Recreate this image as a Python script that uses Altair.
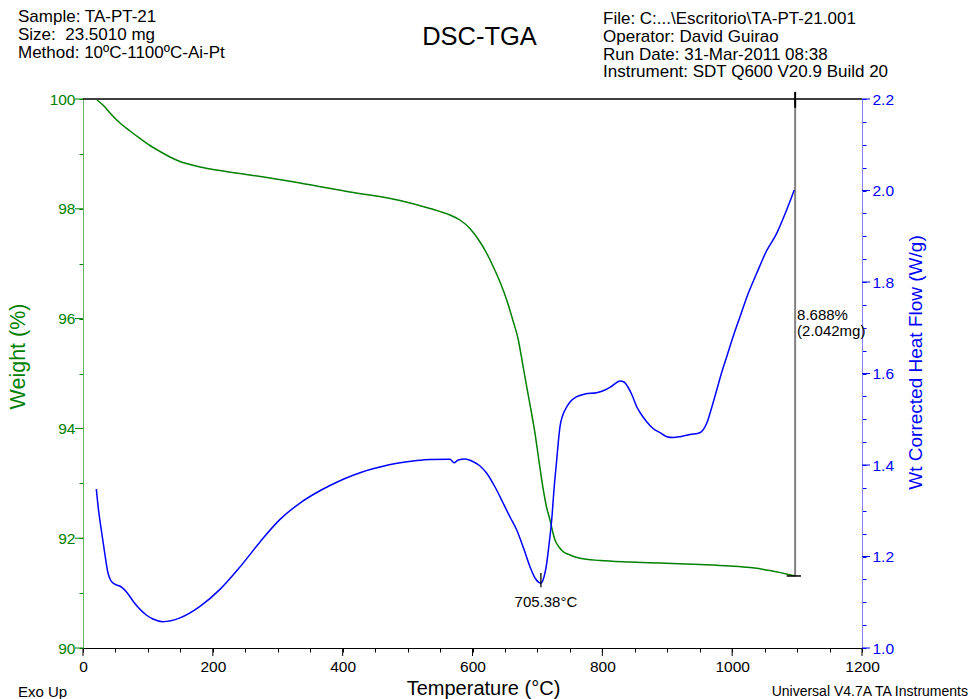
import altair as alt
import pandas as pd

# ---------------- data ----------------
temp_w = [21.6, 32.3, 41.6, 57.0, 72.4, 87.8, 103.2, 118.6, 134.0, 149.4, 164.8, 180.2,
          211.0, 257.3, 334.3, 411.3, 488.3, 534.5, 565.3, 580.7, 596.1, 611.6, 621.6,
          632.0, 642.4, 652.7, 661.6, 670.6, 677.0, 683.5, 690.1, 696.3, 702.4, 709.1,
          714.0, 719.4, 723.2, 727.1, 733.2, 739.9, 750.2, 765.6, 796.4, 842.6, 888.8,
          950.4, 996.7, 1027.5, 1058.3, 1097.0]
weight = [99.982, 99.872, 99.745, 99.563, 99.417, 99.281, 99.153, 99.044, 98.944, 98.862,
          98.807, 98.761, 98.698, 98.616, 98.470, 98.306, 98.151, 98.005, 97.887, 97.796,
          97.641, 97.395, 97.195, 96.945, 96.667, 96.339, 95.993, 95.610, 95.191, 94.760,
          94.335, 93.910, 93.406, 92.878, 92.568, 92.332, 92.131, 91.967, 91.840, 91.754,
          91.694, 91.634, 91.594, 91.567, 91.548, 91.521, 91.494, 91.466, 91.412, 91.312]

temp_hf = [20.5, 23.9, 28.2, 33.4, 38.5, 42.4, 46.2, 51.6, 56.5, 66.7, 79.6, 97.5, 107.8,
           123.2, 149.4, 180.2, 211.0, 241.9, 272.7, 303.5, 334.3, 357.4, 380.5, 403.6,
           431.3, 457.5, 483.7, 511.4, 534.5, 565.3, 571.5, 578.1, 588.4, 601.2, 611.6,
           621.9, 634.7, 647.4, 657.8, 668.1, 678.6, 688.6, 696.3, 702.9, 705.38, 708.6,
           714.3, 717.8, 722.0, 725.5, 729.7, 732.5, 734.8, 738.6, 742.5, 750.2, 760.5,
           773.3, 791.3, 804.1, 814.9, 827.2, 833.4, 839.5, 845.7, 853.0, 859.6, 868.3,
           878.1, 888.9, 899.2, 908.9, 919.7, 935.1, 947.9, 955.1, 960.8, 967.4, 976.2,
           983.6, 991.6, 1001.3, 1012.1, 1024.4, 1037.8, 1052.1, 1068.6, 1081.4, 1095.7]
heat_flow = [1.3475, 1.3016, 1.2579, 1.2077, 1.1639, 1.1486, 1.1421, 1.1377, 1.1355,
             1.1231, 1.0977, 1.0721, 1.0634, 1.0575, 1.0658, 1.0909, 1.1281, 1.1773,
             1.2319, 1.2811, 1.3169, 1.3377, 1.3552, 1.3705, 1.3854, 1.3956, 1.4037,
             1.4092, 1.4120, 1.4125, 1.4050, 1.4109, 1.4131, 1.4072, 1.3978, 1.3819,
             1.3519, 1.3163, 1.2863, 1.2579, 1.2186, 1.1777, 1.1530, 1.1427, 1.1415,
             1.1486, 1.1851, 1.2251, 1.2798, 1.3454, 1.4109, 1.4546, 1.4837, 1.5071,
             1.5202, 1.5377, 1.5493, 1.5552, 1.5580, 1.5639, 1.5727, 1.5836, 1.5814,
             1.5705, 1.5530, 1.5274, 1.5115, 1.4947, 1.4798, 1.4706, 1.4619, 1.4601,
             1.4619, 1.4667, 1.4693, 1.4765, 1.4911, 1.5202, 1.5639, 1.6011, 1.6367,
             1.6798, 1.7242, 1.7738, 1.8190, 1.8656, 1.9064, 1.9486, 2.0011]

x_ticks = list(range(0, 1201, 50))
x_major = list(range(0, 1201, 200))
w_ticks = [90 + 0.5 * i for i in range(21)]
w_major = list(range(90, 101, 2))
hf_ticks = [round(1.0 + 0.05 * i, 2) for i in range(25)]
hf_major = [round(1.0 + 0.2 * i, 1) for i in range(7)]

step_temp = 1097
step_start = 100.0
step_end = 91.312
step_lines = ["8.688%", "(2.042mg)"]
peak_temp = 705.38
peak_label = "705.38°C"

header_left = ["Sample: TA-PT-21", "Size: \u00a023.5010 mg", "Method: 10ºC-1100ºC-Ai-Pt"]
header_right = ["File: C:...\\Escritorio\\TA-PT-21.001", "Operator: David Guirao",
                "Run Date: 31-Mar-2011 08:38", "Instrument: SDT Q600 V20.9 Build 20"]

FONT = "Liberation Sans"
GREEN = "#008000"
BLUE = "#0000ff"
W, H = 779, 549
MINOR = 4
MAJOR = 8

w_df = pd.DataFrame({"T": temp_w, "W": weight})
hf_df = pd.DataFrame({"T": temp_hf, "HF": heat_flow})

x_scale = alt.Scale(domain=[0, 1200], nice=False, zero=False)
w_scale = alt.Scale(domain=[90, 100], nice=False, zero=False)
hf_scale = alt.Scale(domain=[1.0, 2.2], nice=False, zero=False)

x_axis = alt.Axis(
    values=x_ticks, format="d",
    labelExpr="datum.value % 200 === 0 ? datum.label : ''",
    tickSize=MINOR,
    title="Temperature (°C)", titleFont=FONT, titleFontSize=20, titleFontWeight="normal",
    titleX=400, titleY=46, titleBaseline="alphabetic", titleColor="#000000",
    labelFont=FONT, labelFontSize=15.5, labelColor="#000000", labelPadding=7,
    domainColor="#000000", tickColor="#000000", labelFlush=False,
)
w_axis = alt.Axis(
    orient="left", values=w_ticks, format="d",
    labelExpr="abs(datum.value / 2 - round(datum.value / 2)) < 0.001 ? datum.label : ''",
    tickSize=MINOR,
    title="Weight (%)", titleFont=FONT, titleFontSize=21.5, titleFontWeight="normal",
    titleColor=GREEN, titleAngle=270, titleX=-65, titleY=257, titleBaseline="middle",
    titleAlign="center",
    labelFont=FONT, labelFontSize=15.5, labelColor=GREEN, labelPadding=4,
    domainColor="#66b366", tickColor=GREEN, labelFlush=False,
)
hf_axis = alt.Axis(
    orient="right", values=hf_ticks, format=".1f",
    labelExpr="abs(datum.value * 5 - round(datum.value * 5)) < 0.001 ? datum.label : ''",
    tickSize=MINOR,
    title="Wt Corrected Heat Flow (W/g)", titleFont=FONT, titleFontSize=19,
    titleFontWeight="normal", titleColor=BLUE, titleAngle=270, titleX=53, titleY=263,
    titleBaseline="middle", titleAlign="center",
    labelFont=FONT, labelFontSize=15.5, labelColor=BLUE, labelPadding=6,
    domainColor="#7f7fff", tickColor=BLUE, labelFlush=False,
)


def XT(field):
    return alt.X(field, type="quantitative", scale=x_scale, axis=x_axis)


def YW(field):
    return alt.Y(field, type="quantitative", scale=w_scale, axis=w_axis)


def YH(field):
    return alt.Y(field, type="quantitative", scale=hf_scale, axis=hf_axis)


# ---------------- weight layer ----------------
green = alt.Chart(w_df).mark_line(color=GREEN, strokeWidth=1.5, interpolate="monotone").encode(
    x=XT("T"), y=YW("W"),
)

x_major_ticks = alt.Chart(pd.DataFrame({"T": x_major})).mark_rule(
    color="#000000", strokeWidth=1).encode(
    x=XT("T"), y=alt.value(H), y2=alt.value(H + MAJOR),
)
w_major_ticks = alt.Chart(pd.DataFrame({"W": w_major})).mark_rule(
    color=GREEN, strokeWidth=1).encode(
    y=YW("W"), x=alt.value(0), x2=alt.value(-MAJOR),
)

top_line = alt.Chart(pd.DataFrame({"T0": [0], "T1": [1200], "W": [step_start]})).mark_rule(
    color="#000000", strokeWidth=1.3).encode(
    x=XT("T0"), x2="T1:Q", y=YW("W"),
)
step_rule = alt.Chart(pd.DataFrame({"T": [step_temp], "W0": [step_start], "W1": [step_end]})).mark_rule(
    color="#808080", strokeWidth=2).encode(
    x=XT("T"), y=YW("W0"), y2="W1:Q",
)
top_tick = alt.Chart(pd.DataFrame({"T": [step_temp], "W0": [step_start + 0.13], "W1": [step_start - 0.16]})).mark_rule(
    color="#000000", strokeWidth=2).encode(
    x=XT("T"), y=YW("W0"), y2="W1:Q",
)
bot_tick = alt.Chart(pd.DataFrame({"T0": [step_temp - 13], "T1": [step_temp + 9], "W": [step_end]})).mark_rule(
    color="#000000", strokeWidth=1.5).encode(
    x=XT("T0"), x2="T1:Q", y=YW("W"),
)
step_text = alt.Chart(pd.DataFrame({"T": [step_temp + 3, step_temp + 3], "W": [96.07, 95.77],
                                    "txt": step_lines})).mark_text(
    align="left", baseline="middle", font=FONT, fontSize=15, color="#000000").encode(
    x=XT("T"), y=YW("W"), text="txt:N",
)

hl = pd.DataFrame({"txt": header_left, "py": [-82, -64, -46.5]})
header_l = alt.Chart(hl).mark_text(align="left", baseline="middle", font=FONT, fontSize=17,
                                   color="#000000").encode(
    x=alt.value(-65), y=alt.Y("py:Q", scale=None), text="txt:N")
hr = pd.DataFrame({"txt": header_right, "py": [-80.5, -62.5, -44.5, -27]})
header_r = alt.Chart(hr).mark_text(align="left", baseline="middle", font=FONT, fontSize=17,
                                   color="#000000").encode(
    x=alt.value(520), y=alt.Y("py:Q", scale=None), text="txt:N")
title_t = alt.Chart(pd.DataFrame({"txt": ["DSC-TGA"]})).mark_text(
    align="center", baseline="middle", font=FONT, fontSize=25.5, color="#000000").encode(
    x=alt.value(396.5), y=alt.value(-62), text="txt:N")
exo_t = alt.Chart(pd.DataFrame({"txt": ["Exo Up"]})).mark_text(
    align="left", baseline="middle", font=FONT, fontSize=15, color="#000000").encode(
    x=alt.value(-65), y=alt.value(593), text="txt:N")
univ_t = alt.Chart(pd.DataFrame({"txt": ["Universal V4.7A TA Instruments"]})).mark_text(
    align="right", baseline="middle", font=FONT, fontSize=14, color="#000000").encode(
    x=alt.value(885), y=alt.value(593), text="txt:N")

weight_layer = alt.layer(green, top_line, x_major_ticks, w_major_ticks, step_rule, top_tick,
                         bot_tick, step_text, header_l, header_r, title_t, exo_t, univ_t)

# ---------------- heat flow layer ----------------
blue = alt.Chart(hf_df).mark_line(color=BLUE, strokeWidth=1.5, interpolate="monotone").encode(
    x=XT("T"), y=YH("HF"),
)
hf_major_ticks = alt.Chart(pd.DataFrame({"HF": hf_major})).mark_rule(
    color=BLUE, strokeWidth=1).encode(
    y=YH("HF"), x=alt.value(W), x2=alt.value(W + MAJOR),
)
peak_tick = alt.Chart(pd.DataFrame({"T": [peak_temp], "H0": [1.133], "H1": [1.164]})).mark_rule(
    color="#000000", strokeWidth=1.3).encode(
    x=XT("T"), y=YH("H0"), y2="H1:Q",
)
peak_text = alt.Chart(pd.DataFrame({"T": [peak_temp], "H": [1.1005], "txt": [peak_label]})).mark_text(
    align="center", baseline="middle", font=FONT, fontSize=15, color="#000000", dx=5).encode(
    x=XT("T"), y=YH("H"), text="txt:N",
)
hf_layer = alt.layer(blue, hf_major_ticks, peak_tick, peak_text)

chart = alt.layer(weight_layer, hf_layer).resolve_scale(y="independent").properties(
    width=W, height=H,
    autosize=alt.AutoSizeParams(type="none"),
    padding={"left": 83, "top": 99, "right": 108, "bottom": 51},
    background="#ffffff",
).configure_view(stroke=None).configure_axis(grid=False)

chart.save("out.html", embed_options={"renderer": "svg", "actions": False})
